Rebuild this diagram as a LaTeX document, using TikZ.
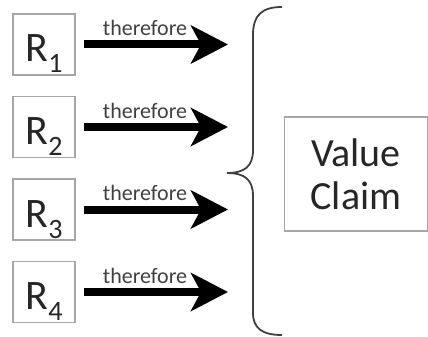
\documentclass[tikz,border=0pt]{standalone}
\usepackage{fontspec}
\setmainfont{Carlito}
\usetikzlibrary{arrows.meta}
\definecolor{boxgray}{HTML}{A6A6A6}
\definecolor{txtdark}{HTML}{262626}
\definecolor{thergray}{HTML}{404040}
\definecolor{bracegray}{HTML}{404040}
\newcommand{\rlab}[1]{R\raisebox{-11pt}{\fontsize{28}{28}\selectfont #1}}
\begin{document}
\begin{tikzpicture}[x=1pt,y=-1pt,
  rbox/.style={draw=boxgray,line width=1.3pt,minimum width=62pt,minimum height=61pt,
    inner sep=0pt,text height=40pt,text depth=5pt,text=txtdark,
    font=\fontsize{42}{42}\selectfont},
  bigarrow/.style={line width=8pt,-{Stealth[length=37pt,width=38pt,inset=10pt]}},
  therlab/.style={text=thergray,font=\fontsize{22}{22}\selectfont,inner sep=0pt,anchor=base},
  claimbox/.style={draw=boxgray,line width=1.3pt,minimum width=143pt,minimum height=114pt,
    inner sep=0pt,text=txtdark,align=center,font=\fontsize{40}{43}\selectfont},
  bracestyle/.style={draw=bracegray,line width=1.8pt}
]
\useasboundingbox (0,0) rectangle (428,337);
% reason boxes
\node[rbox] (r1) at (44,44.5) {\rlab{1}};
\node[rbox] (r2) at (44,127) {\rlab{2}};
\node[rbox] (r3) at (44,209.5) {\rlab{3}};
\node[rbox] (r4) at (44,292) {\rlab{4}};
% arrow ends
\coordinate (t1) at (228,44.5);
\coordinate (t2) at (228,127);
\coordinate (t3) at (228,209.5);
\coordinate (t4) at (228,292);
\foreach \i in {1,2,3,4}{
  \draw[bigarrow] ([xshift=8pt]r\i.east) -- (t\i);
  \node[therlab] (th\i) at ([xshift=-83pt,yshift=9pt]t\i) {therefore};
}
% brace
\draw[bracestyle] (282,7) .. controls (262,7) and (253,15) .. (253,35) -- (253,150)
  .. controls (253,166) and (245,173) .. (227,173)
  .. controls (245,173) and (253,180) .. (253,196) -- (253,313)
  .. controls (253,328) and (262,335) .. (282,335);
% claim box
\node[claimbox] (vc) at (356,174) {Value\\Claim};
\end{tikzpicture}
\end{document}
